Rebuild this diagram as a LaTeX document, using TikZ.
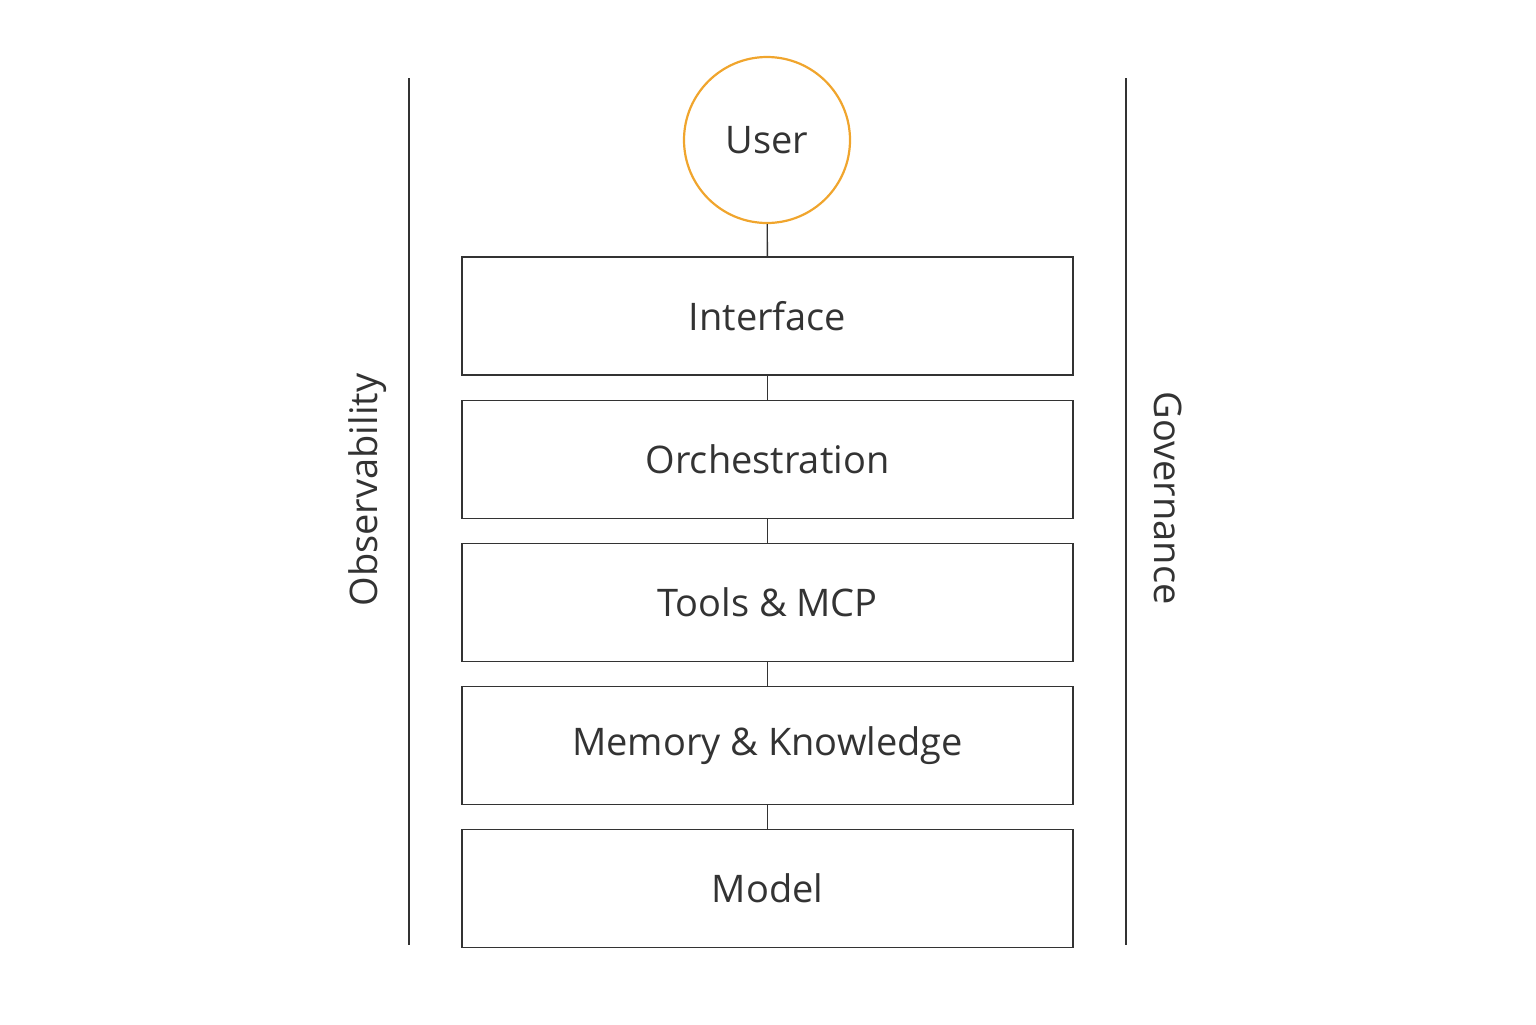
\documentclass[tikz,border=0pt]{standalone}
\usepackage{fontspec}
\setmainfont{Open Sans}
\begin{document}
\begin{tikzpicture}[x=0.5pt,y=-0.5pt,
  ln/.style={draw=black!80,line width=0.7pt},
  box/.style={ln,minimum width=305.5pt,minimum height=59pt,inner sep=0pt,font=\fontsize{19}{22}\selectfont,text=black!80},
  side/.style={font=\fontsize{19}{22}\selectfont,text=black!80}]
\useasboundingbox (0,0) rectangle (1536,1024);
\node[circle,draw={rgb,255:red,240;green,165;blue,45},line width=1.1pt,minimum size=83pt,inner sep=0pt,font=\fontsize{19}{22}\selectfont,text=black!80] (user) at (767,140) {User};
\node[box] (b1) at (767.5,316) {Interface};
\node[box] (b2) at (767.5,459.5) {Orchestration};
\node[box] (b3) at (767.5,602.5) {Tools \& MCP};
\node[box] (b4) at (767.5,745.5) {Memory \& Knowledge};
\node[box] (b5) at (767.5,888.5) {Model};
\draw[ln] (user) -- (b1);
\draw[ln] (b1) -- (b2);
\draw[ln] (b2) -- (b3);
\draw[ln] (b3) -- (b4);
\draw[ln] (b4) -- (b5);
\coordinate (l1) at (409,78); \coordinate (l2) at (409,945);
\coordinate (r1) at (1126,78); \coordinate (r2) at (1126,945);
\draw[ln] (l1) -- (l2);
\draw[ln] (r1) -- (r2);
\node[side,rotate=90] (obs) at (368,490) {Observability};
\node[side,rotate=-90] (gov) at (1168,498) {Governance};
\end{tikzpicture}
\end{document}
